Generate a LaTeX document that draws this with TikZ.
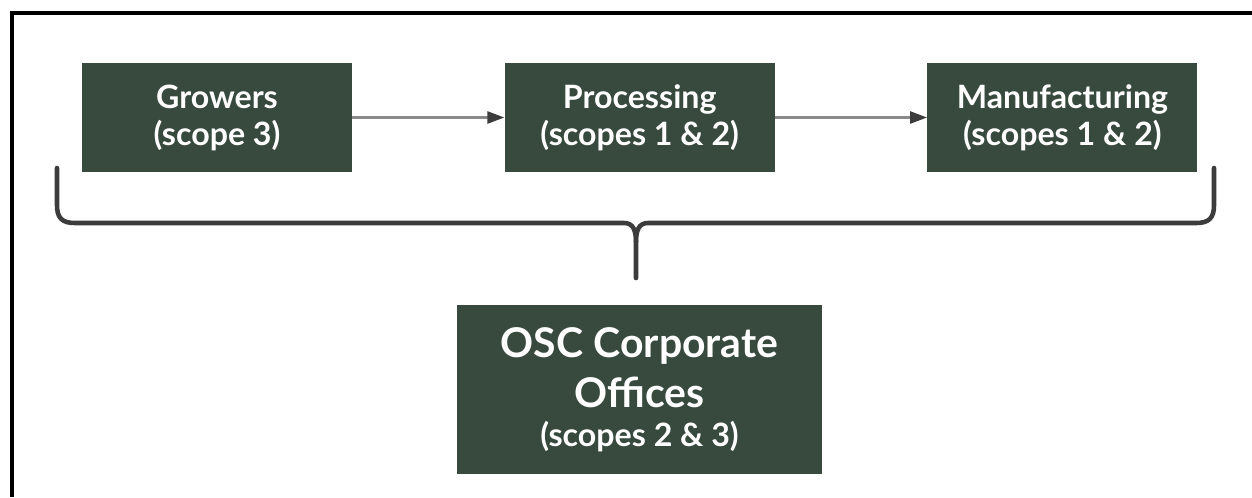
\documentclass[tikz,border=0pt]{standalone}
\usepackage{fontspec}
\setmainfont{Lato}
\usetikzlibrary{arrows.meta}
\usetikzlibrary{positioning}
\definecolor{mgreen}{HTML}{384A3D}
\definecolor{mgrey}{HTML}{8A8A8A}
\definecolor{mdark}{HTML}{3C3C3C}
\tikzset{stage/.style = {fill=mgreen, text=white, align=center,
                         minimum width=5.4cm, minimum height=2.18cm, inner sep=0,
                         font=\bfseries\fontsize{18.3}{21}\selectfont}}
\tikzset{office/.style = {stage, minimum width=7.3cm, minimum height=3.38cm,
                          font=\bfseries\fontsize{23.3}{28.4}\selectfont}}
\tikzset{flow/.style = {draw=mgrey, line width=1.4pt,
                        -{Triangle[length=0.34cm, width=0.24cm, color=mdark]}}}
\tikzset{brace/.style = {draw=mdark, line width=2.6pt, line cap=round, line join=round}}

\begin{document}
\begin{tikzpicture}[x=0.2mm, y=-0.2mm]
  \useasboundingbox (0, 0) rectangle (1252, 497);
  \draw [line width=2pt] (12, 497) |- (1252, 13);

  \node [stage] (growers) at (217, 117.5) {Growers\\(scope 3)};
  \node [stage, right=3.04cm of growers] (processing) {Processing\\(scopes 1 \& 2)};
  \node [stage, right=3.04cm of processing] (manufacturing) {Manufacturing\\(scopes 1 \& 2)};
  \node [office] (offices) at (639.5, 389.5)
    {OSC Corporate\\Offices\\[-6pt]{\fontsize{18.3}{21}\selectfont (scopes 2 \& 3)}};

  \draw [flow] (growers) -- (processing);
  \draw [flow] (processing) -- (manufacturing);

  % brace over the three stages
  \draw [brace] (57, 168) -- (57, 205) .. controls (57, 218) and (62, 223) .. (75, 223)
    -- (624, 223) .. controls (633, 223) and (636, 230) .. (636, 242) -- (636, 278);
  \draw [brace] (1214, 168) -- (1214, 205) .. controls (1214, 218) and (1209, 223) .. (1196, 223)
    -- (648, 223) .. controls (639, 223) and (636, 230) .. (636, 242);
\end{tikzpicture}
\end{document}
